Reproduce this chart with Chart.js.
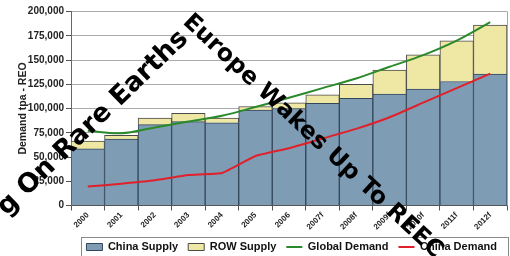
<!DOCTYPE html>
<html><head><meta charset="utf-8">
<script src="https://cdn.jsdelivr.net/npm/chart.js@4/dist/chart.umd.min.js"></script>
<style>html,body{margin:0;padding:0;background:#fff;}#wrap{width:510px;height:256px;position:relative}</style>
</head><body><div id="wrap"><canvas id="c" width="510" height="256"></canvas></div>
<script>
const categories = ['2000','2001','2002','2003','2004','2005','2006','2007f','2008f','2009f','2010f','2011f','2012f'];
const chinaSupply = [58300, 68600, 83300, 86400, 85300, 98400, 100000, 105400, 110500, 114900, 120000, 127800, 135400];
const rowSupply = [8000, 3700, 6900, 8500, 4900, 3700, 5900, 8600, 14500, 24600, 35300, 41900, 50600];
const globalDemand = [77000, 74500, 80500, 86500, 92500, 101500, 111000, 121000, 131000, 143000, 155000, 170000, 189000];
const chinaDemand = [19500, 22500, 26000, 31500, 33500, 51000, 59000, 69000, 79000, 91000, 106000, 121000, 136000];
const seriesNames = ['China Supply', 'ROW Supply', 'Global Demand', 'China Demand'];
const yTitle = 'Demand tpa - REO';
const overlayText1 = 'g On Rare Earths';
const overlayText2 = 'Europe Wakes Up To REEC';

const FONT = '"Liberation Sans", Arial, sans-serif';
const OVER_FONT = '"DejaVu Sans", Verdana, sans-serif';

const extras = {
  id: 'extras',
  afterInit(chart) {
    const lg = chart.legend;
    const orig = lg.fit;
    lg.fit = function () { orig.call(this); this.height = 24.5; };
  },
  beforeDatasetsDraw(chart) {
    const {ctx, chartArea: a} = chart;
    ctx.save();
    ctx.strokeStyle = '#a8a8a8';
    ctx.lineWidth = 1;
    ctx.beginPath();
    ctx.moveTo(Math.round(a.right) + 0.5, a.top);
    ctx.lineTo(Math.round(a.right) + 0.5, a.bottom);
    ctx.stroke();
    ctx.restore();
  },
  afterDraw(chart) {
    const ctx = chart.ctx;
    const lg = chart.legend;
    ctx.save();
    if (lg && lg.legendHitBoxes && lg.legendHitBoxes.length) {
      const l = Math.min(...lg.legendHitBoxes.map(h => h.left)) - 5;
      const t = lg.legendHitBoxes[0].top - 5;
      ctx.strokeStyle = '#8a8a8a';
      ctx.lineWidth = 1;
      ctx.strokeRect(Math.round(l) + 0.5, Math.round(t) + 0.5, 508 - Math.round(l), 30);
    }
    ctx.fillStyle = '#000';
    ctx.textBaseline = 'alphabetic';
    ctx.save();
    ctx.font = 'bold 26.5px ' + OVER_FONT;
    ctx.translate(189, 40);
    ctx.rotate(-44 * Math.PI / 180);
    ctx.textAlign = 'right';
    ctx.fillText(overlayText1, 0, 0);
    ctx.restore();
    ctx.save();
    ctx.font = 'bold 23.6px ' + OVER_FONT;
    ctx.translate(182, 23);
    ctx.rotate(43 * Math.PI / 180);
    ctx.textAlign = 'left';
    ctx.fillText(overlayText2, 0, 0);
    ctx.restore();
    ctx.restore();
  }
};

new Chart(document.getElementById('c'), {
  type: 'bar',
  data: {
    labels: categories,
    datasets: [
      {label: seriesNames[0], data: chinaSupply, backgroundColor: '#7f9cb5', borderColor: '#34465a', borderWidth: 1, stack: 's', order: 2, pointStyle: 'rect', categoryPercentage: 1, barPercentage: 1},
      {label: seriesNames[1], data: rowSupply, backgroundColor: '#efe8a5', borderColor: '#4a4a4a', borderWidth: 1, stack: 's', order: 2, pointStyle: 'rect', categoryPercentage: 1, barPercentage: 1},
      {type: 'line', label: seriesNames[2], data: globalDemand, borderColor: '#2a8a2a', backgroundColor: '#2a8a2a', borderWidth: 2, pointRadius: 0, tension: 0.35, stack: 'g', order: 1, pointStyle: 'line', fill: false},
      {type: 'line', label: seriesNames[3], data: chinaDemand, borderColor: '#e0202a', backgroundColor: '#e0202a', borderWidth: 2, pointRadius: 0, tension: 0.12, stack: 'c', order: 0, pointStyle: 'line', fill: false}
    ]
  },
  options: {
    responsive: false,
    animation: false,
    devicePixelRatio: 1,
    layout: {padding: {top: 11.5, right: 3, left: 0, bottom: 0}},
    plugins: {
      tooltip: {enabled: false},
      legend: {
        position: 'bottom',
        align: 'end',
        labels: {
          usePointStyle: true,
          pointStyleWidth: 16,
          boxHeight: 7,
          padding: 10,
          color: '#111',
          font: {family: FONT, size: 11, weight: 'bold'},
          sort: (a, b) => a.datasetIndex - b.datasetIndex
        }
      }
    },
    scales: {
      x: {
        stacked: true,
        offset: true,
        grid: {offset: true, drawOnChartArea: false, drawTicks: true, tickLength: 5, color: '#555'},
        border: {color: '#555'},
        ticks: {minRotation: 45, maxRotation: 45, autoSkip: false, padding: 0, color: '#222', font: {family: FONT, size: 8, weight: 'bold'}},
        afterFit: s => { s.height = 26; }
      },
      y: {
        stacked: true,
        min: 0,
        max: 200000,
        grid: {color: '#ababab', tickLength: 5, tickColor: '#555'},
        border: {color: '#666'},
        ticks: {stepSize: 25000, padding: 2, color: '#222', font: {family: FONT, size: 10, weight: 'bold'},
          callback: v => v.toLocaleString('en-US')},
        title: {display: true, text: yTitle, color: '#222', font: {family: FONT, size: 10.5, weight: 'bold'}, padding: {top: 17, bottom: 0}},
        afterFit: s => { s.width = 71; }
      }
    }
  },
  plugins: [extras]
});
</script>
</body></html>
